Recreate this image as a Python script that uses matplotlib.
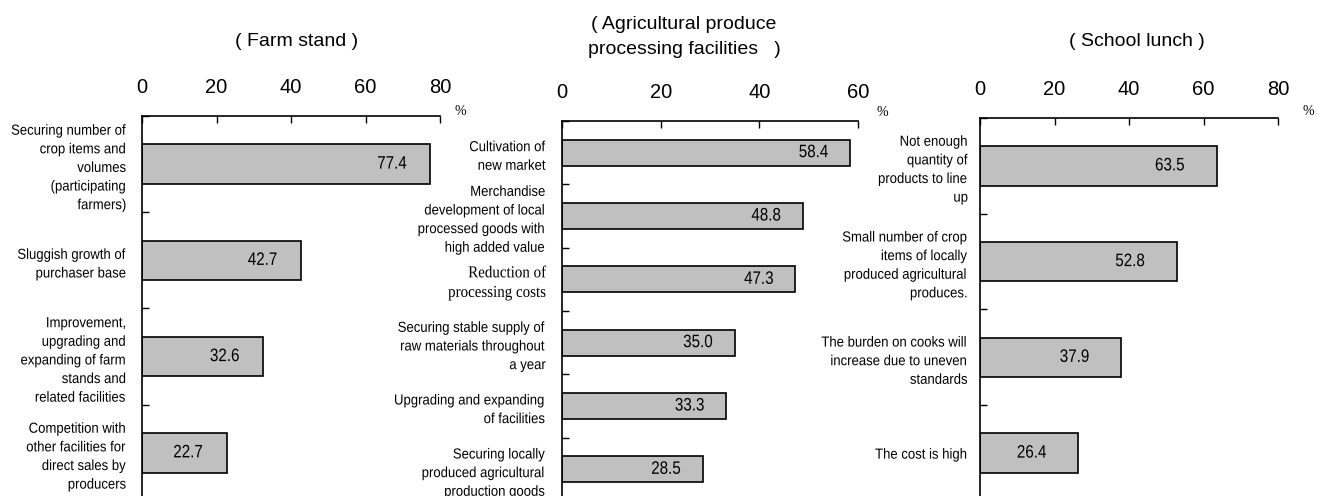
import matplotlib.pyplot as plt
from matplotlib import font_manager
from matplotlib.patheffects import AbstractPathEffect
from matplotlib.transforms import Affine2D

names = {f.name for f in font_manager.fontManager.ttflist}
HAS_NARROW = 'Liberation Sans Narrow' in names
SANS = 'Liberation Sans'
SERIF = 'Liberation Serif'


class Squeeze(AbstractPathEffect):
    """Squeeze text horizontally around its right edge (stands in for a narrow face)."""

    def __init__(self, sx):
        super().__init__()
        self.sx = sx

    def draw_path(self, renderer, gc, tpath, affine, rgbFace=None):
        bb = tpath.get_extents(affine)
        x0 = bb.x1
        t = affine + Affine2D().translate(-x0, 0).scale(self.sx, 1).translate(x0, 0)
        renderer.draw_path(gc, tpath, t, rgbFace)


NARROW = 'Liberation Sans Narrow' if HAS_NARROW else SANS
CAT_SIZE = 11.5 if HAS_NARROW else 10.5
CAT_FX = [] if HAS_NARROW else [Squeeze(0.9)]
VAL_FX = [] if HAS_NARROW else [Squeeze(0.84)]

# data (%)
farm_items = ['Securing number of\ncrop items and\nvolumes\n(participating\nfarmers)',
              'Sluggish growth of\npurchaser base',
              'Improvement,\nupgrading and\nexpanding of farm\nstands and\nrelated facilities',
              'Competition with\nother facilities for\ndirect sales by\nproducers']
farm_values = [77.4, 42.7, 32.6, 22.7]

proc_items = ['Cultivation of\nnew market',
              'Merchandise\ndevelopment of local\nprocessed goods with\nhigh added value',
              'Reduction of\nprocessing costs',
              'Securing stable supply of\nraw materials throughout\na year',
              'Upgrading and expanding\nof facilities',
              'Securing locally\nproduced agricultural\nproduction goods']
proc_values = [58.4, 48.8, 47.3, 35.0, 33.3, 28.5]

lunch_items = ['Not enough\nquantity of\nproducts to line\nup',
               'Small number of crop\nitems of locally\nproduced agricultural\nproduces.',
               'The burden on cooks will\nincrease due to uneven\nstandards',
               'The cost is high']
lunch_values = [63.5, 52.8, 37.9, 26.4]

W, H = 1317, 496
fig = plt.figure(figsize=(W / 100, H / 100), dpi=100)


def px_rect(left, right, top, bottom):
    return [left / W, 1 - bottom / H, (right - left) / W, (bottom - top) / H]


def draw_panel(rect, items, values, xmax, gap, ypad, pct_off):
    ax = fig.add_axes(rect)
    n = len(items)
    pos = [i + 0.5 for i in range(n)]
    ax.barh(pos, values, height=0.41, color='#c0c0c0', edgecolor='black', linewidth=1.2)
    ax.set_xlim(0, xmax)
    ax.set_ylim(n, 0)
    ax.xaxis.tick_top()
    ax.set_xticks(range(0, xmax + 1, 20))
    ax.tick_params(axis='x', direction='in', length=5, width=1, pad=14, labelsize=14.5)
    for lab in ax.get_xticklabels():
        lab.set_fontfamily(SANS)
    ax.set_yticks(range(n + 1))
    ax.set_yticklabels([])
    ax.set_yticks(pos, minor=True)
    labs = ax.set_yticklabels(items, minor=True, fontsize=CAT_SIZE, family=NARROW, linespacing=1.42)
    for lab in labs:
        lab.set_path_effects(CAT_FX)
    ax.tick_params(axis='y', which='major', direction='in', length=5, width=1)
    ax.tick_params(axis='y', which='minor', length=0, pad=ypad)
    for s in ['right', 'bottom']:
        ax.spines[s].set_visible(False)
    for s in ['top', 'left']:
        ax.spines[s].set_linewidth(1.2)
    for y, v in zip(pos, values):
        ax.annotate(f'{v:.1f}', xy=(v, y), xytext=(-gap, 0), textcoords='offset pixels',
                    ha='right', va='center', fontsize=13, family=NARROW,
                    path_effects=VAL_FX)
    ax.annotate('%', xy=(1, 1), xycoords='axes fraction', xytext=pct_off,
                textcoords='offset pixels', ha='center', va='center',
                fontsize=10, family=SERIF, annotation_clip=False)
    return ax


ax1 = draw_panel(px_rect(142, 440, 116, 501), farm_items, farm_values, 80, 24, 11, (20, 4))
ax2 = draw_panel(px_rect(562, 858, 121, 501), proc_items, proc_values, 60, 22, 11.5, (24, 9))
ax3 = draw_panel(px_rect(980, 1278, 118, 501), lunch_items, lunch_values, 80, 32, 8.5, (30, 6))

# "Reduction of processing costs" is set in a serif face in the original
lab = ax2.get_yticklabels(minor=True)[2]
lab.set_fontfamily(SERIF)
lab.set_fontsize(12)
lab.set_linespacing(1.3)
lab.set_path_effects([Squeeze(0.9)])

fig.text(297 / W, 1 - 42 / H, '( Farm stand )', ha='center', va='center', fontsize=14, family=SANS)
fig.text(684 / W, 1 - 37 / H, '( Agricultural produce\nprocessing facilities   )', ha='center',
         va='center', fontsize=14, family=SANS, linespacing=1.6)
fig.text(1137 / W, 1 - 42 / H, '( School lunch )', ha='center', va='center', fontsize=14, family=SANS)

fig.savefig('out.png', dpi=100)
